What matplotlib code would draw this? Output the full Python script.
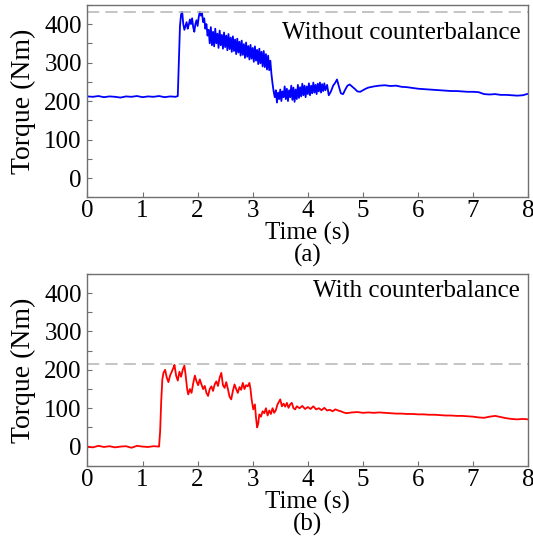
import matplotlib.pyplot as plt
from matplotlib.ticker import MultipleLocator

plt.rcParams['font.family'] = ['Liberation Serif', 'DejaVu Serif']

# Torque without counterbalance (a)
t_without = [0.00, 0.10, 0.20, 0.30, 0.40, 0.50, 0.60, 0.70, 0.80, 0.90, 1.00, 1.10, 1.20, 1.30, 1.40, 1.50, 1.60, 1.64,
             1.66, 1.68, 1.70, 1.72, 1.74, 1.76, 1.78, 1.80, 1.82, 1.84, 1.86, 1.88, 1.90, 1.92, 1.94, 1.96, 1.98, 2.00,
             2.02, 2.04, 2.06, 2.08, 2.10, 2.12, 2.14, 2.16, 2.18,
             2.20, 2.22, 2.24, 2.26, 2.28, 2.30, 2.32, 2.34, 2.36, 2.38, 2.40, 2.42, 2.44, 2.46, 2.48, 2.50, 2.52, 2.54,
             2.56, 2.58, 2.60, 2.62, 2.64, 2.66, 2.68, 2.70, 2.72, 2.74, 2.76, 2.78, 2.80, 2.82, 2.84, 2.86, 2.88, 2.90,
             2.92, 2.94, 2.96, 2.98, 3.00, 3.02, 3.04, 3.06, 3.08, 3.10, 3.12, 3.14, 3.16, 3.18, 3.20, 3.22, 3.24, 3.26,
             3.28, 3.30, 3.32,
             3.34, 3.36, 3.38, 3.40, 3.42, 3.44, 3.46, 3.48, 3.50, 3.52, 3.54, 3.56, 3.58, 3.60, 3.62, 3.64, 3.66, 3.68,
             3.70, 3.72, 3.74, 3.76, 3.78, 3.80, 3.82, 3.84, 3.86, 3.88, 3.90, 3.92, 3.94, 3.96, 3.98, 4.00, 4.02, 4.04,
             4.06, 4.08, 4.10, 4.12, 4.14, 4.16, 4.18, 4.20, 4.22, 4.24, 4.26, 4.28, 4.30, 4.32, 4.35, 4.38, 4.42, 4.46,
             4.50, 4.53, 4.56, 4.60, 4.64, 4.68, 4.72, 4.76, 4.80, 4.85, 4.90, 4.95, 5.00, 5.05, 5.10, 5.20, 5.30, 5.40,
             5.50, 5.60, 5.70, 5.80, 5.90, 6.00, 6.10, 6.20, 6.30, 6.40, 6.50, 6.60, 6.70, 6.80, 6.90, 7.00, 7.10, 7.20,
             7.30, 7.40, 7.50, 7.60, 7.70, 7.80, 7.90, 8.00]
torque_without = [212, 211, 213, 210, 212, 211, 209, 212, 211, 213, 210, 212, 211, 213, 210, 212, 211, 213,
                  300, 395, 425, 432, 400, 385, 395, 405, 388, 398, 412, 400, 415, 392, 380, 400, 410, 395,
                  418, 432, 422, 428, 405, 415, 388, 400, 370,
                  385, 350, 392, 345, 380, 342, 388, 350, 375, 338, 383, 345, 372, 336, 378, 340, 370, 332,
                  374, 335, 365, 328, 368, 330, 360, 322, 362, 326, 354, 318, 357, 320, 348, 312, 352, 315,
                  343, 308, 346, 310, 338, 302, 342, 305, 333, 296, 336, 298, 328, 290, 330, 288, 322, 282,
                  318, 280, 305,
                  270, 245, 225, 210, 228, 196, 222, 205, 230, 200, 225, 210, 238, 205, 232, 200, 228, 210,
                  240, 203, 235, 198, 230, 205, 242, 208, 236, 212, 245, 215, 240, 210, 238, 218, 246, 215,
                  240, 220, 248, 222, 242, 218, 245, 225, 248, 222, 244, 226, 246, 228, 242, 215, 225, 240,
                  248, 256, 240, 220, 218, 230, 240, 243, 238, 232, 225, 224, 228, 232, 235, 238, 240, 241,
                  239, 240, 237, 236, 234, 232, 231, 230, 229, 228, 227, 226, 226, 225, 224, 224, 223, 218,
                  217, 218, 216, 216, 215, 214, 215, 219]

# Torque with counterbalance (b)
t_with = [0.00, 0.10, 0.20, 0.30, 0.40, 0.50, 0.60, 0.70, 0.80, 0.90, 1.00, 1.10, 1.20, 1.30,
          1.32, 1.34, 1.36, 1.38, 1.41, 1.44, 1.47, 1.50, 1.53, 1.56, 1.58, 1.61, 1.64, 1.67, 1.70, 1.73, 1.76,
          1.78, 1.81, 1.83, 1.86, 1.89, 1.92, 1.95, 1.98, 2.01, 2.04, 2.07, 2.10, 2.13, 2.16, 2.19, 2.22, 2.25,
          2.28, 2.31, 2.34, 2.37, 2.40, 2.43, 2.46, 2.49, 2.52, 2.55, 2.58, 2.61, 2.64, 2.67, 2.70, 2.73, 2.76,
          2.79, 2.82, 2.85, 2.88, 2.91, 2.94, 2.96, 2.98, 3.01, 3.04, 3.06, 3.08, 3.10, 3.12, 3.15, 3.18, 3.21,
          3.24, 3.27, 3.30, 3.33, 3.36, 3.39, 3.42, 3.45, 3.48, 3.50, 3.53, 3.56, 3.59, 3.62, 3.65, 3.68, 3.71,
          3.74, 3.77, 3.80, 3.85, 3.90, 3.95, 4.00, 4.05, 4.10, 4.15, 4.20, 4.25, 4.30, 4.35, 4.40, 4.45, 4.50,
          4.55, 4.60, 4.65, 4.70, 4.80, 4.90, 5.00, 5.10, 5.20, 5.30, 5.40, 5.50, 5.60, 5.70, 5.80, 5.90, 6.00,
          6.10, 6.20, 6.30, 6.40, 6.50, 6.60, 6.70, 6.80, 6.90, 7.00, 7.10, 7.20, 7.30, 7.40, 7.50, 7.60, 7.70,
          7.80, 7.90, 8.00]
torque_with = [0, -2, 2, -1, 1, -2, 0, 1, -3, 2, 0, -1, 1, 0,
               40, 120, 175, 192, 200, 180, 168, 185, 195, 205, 213, 185, 172, 195, 182, 200, 211,
               190, 150, 136, 150, 140, 165, 185, 170, 160, 175, 162, 150, 158, 140, 132, 150, 157,
               145, 162, 170, 158, 180, 192, 160, 153, 168, 150, 130, 123, 145, 162, 150, 140, 155,
               148, 166, 150, 160, 157, 166, 150, 123, 97, 110, 75, 50, 60, 84, 78, 92, 87,
               100, 81, 94, 85, 100, 88, 95, 110, 118, 123, 105, 112, 104, 114, 101, 110, 114,
               100, 97, 105, 100, 106, 98, 103, 98, 105, 97, 100, 95, 101, 94, 96, 92, 97,
               94, 92, 89, 87, 89, 90, 88, 89, 88, 89, 88, 87, 86, 86, 85, 85, 84,
               84, 83, 83, 82, 81, 81, 80, 80, 79, 78, 76, 75, 78, 80, 77, 74, 72,
               71, 72, 71]

xticks = [0, 1, 2, 3, 4, 5, 6, 7, 8]
yticks = [0, 100, 200, 300, 400]

panels = [
    (t_without, torque_without, 'blue', 432, 'Without counterbalance', '(a)', 0.854, 0.523,
     [0.164, 0.632, 0.827, 0.359]),
    (t_with, torque_with, 'red', 215, 'With counterbalance', '(b)', 0.913, 0.021,
     [0.164, 0.131, 0.827, 0.358]),
]

fig = plt.figure(figsize=(5.33, 5.36), dpi=100)

for t, tq, color, peak, label, tag, ty, tag_y, rect in panels:
    ax = fig.add_axes(rect)
    ax.plot(t, tq, color=color, lw=1.3)
    ax.axhline(peak, color='#b4b4b4', lw=1.1, dashes=(8, 4))
    ax.set_xlim(0, 8)
    ax.set_ylim(-50, 450)
    ax.set_xticks(xticks)
    ax.set_yticks(yticks)
    ax.yaxis.set_minor_locator(MultipleLocator(50))
    ax.tick_params(which='both', direction='in', length=3.5, width=0.8, color='#707070',
                   labelsize=18, pad=2)
    ax.tick_params(axis='y', pad=4)
    for s in ax.spines.values():
        s.set_color('#707070')
        s.set_linewidth(1.0)
    ax.set_ylabel('Torque (Nm)', fontsize=20, labelpad=6)
    ax.set_xlabel('Time (s)', fontsize=18, labelpad=0)
    ax.text(0.982, ty, label, transform=ax.transAxes, ha='right', va='center', fontsize=18)
    fig.text(rect[0] + rect[2] / 2, tag_y, tag, ha='center', va='center', fontsize=18)

fig.savefig('out.png', dpi=100)
